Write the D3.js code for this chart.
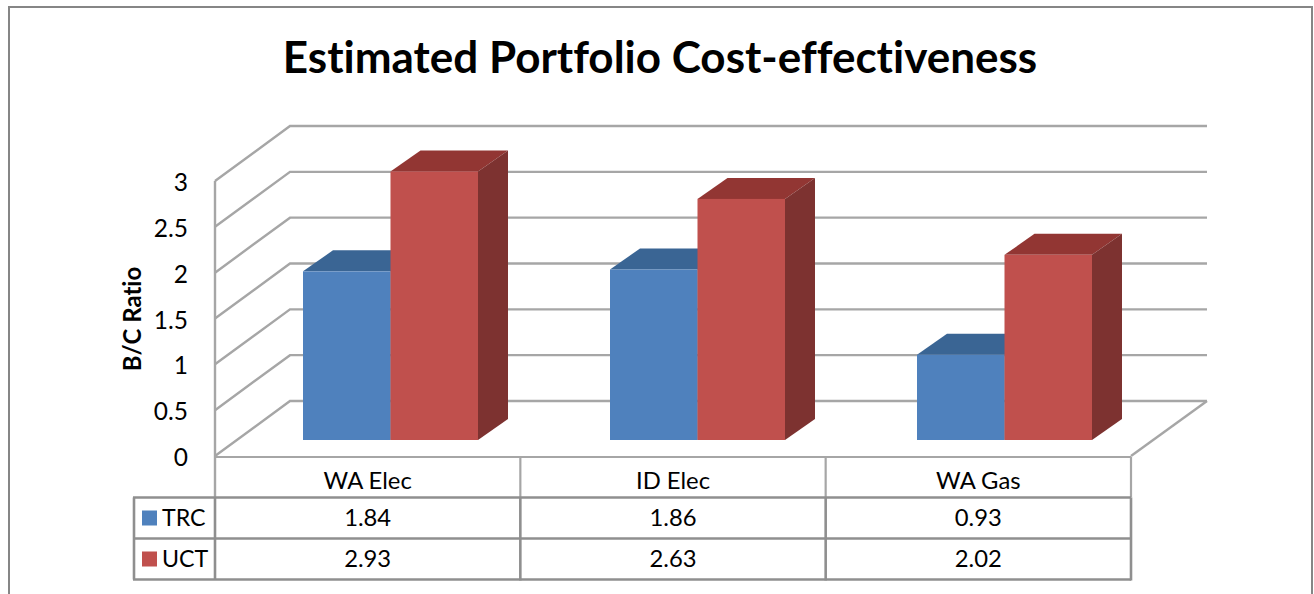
<!DOCTYPE html>
<html><head><meta charset="utf-8">
<script src="https://cdn.jsdelivr.net/npm/d3@7"></script>
<style>html,body{margin:0;padding:0;background:#fff}svg{display:block}text{font-family:Lato,"Open Sans",sans-serif;fill:#000;font-variant-ligatures:none}</style>
</head><body><script>
const categories=["WA Elec","ID Elec","WA Gas"];
const seriesNames=["TRC","UCT"];
const trc=[1.84,1.86,0.93];
const uct=[2.93,2.63,2.02];
const yTicks=[0,0.5,1,1.5,2,2.5,3];
const tickLabels=["0","0.5","1","1.5","2","2.5","3"];
const titleText="Estimated Portfolio Cost-effectiveness";
const yAxisTitle="B/C Ratio";
const front={face:["#4f81bd","#c0504d"],top:["#3a6594","#923633"],side:["#2f5480","#7d3230"]};
const grid="#a6a6a6", tableLine="#8f8f8f";

const W=1314,H=594;
const svg=d3.select("body").append("svg").attr("width",W).attr("height",H);
// frame
svg.append("path").attr("d","M9,594V7H1312V594").attr("fill","none").attr("stroke","#868686").attr("stroke-width",2);
svg.append("text").attr("x",660).attr("y",73).attr("text-anchor","middle").attr("font-size",44).attr("font-weight",700).text(titleText);

const y=d3.scaleLinear().domain([0,3]).range([456,181]);
const x0=d3.scaleBand().domain(categories).range([215,1131]);
const xBars=d3.scaleBand().domain(categories).range([215,1136]);
const x1=d3.scaleBand().domain(seriesNames).range([88,263]);
const wallDx=75,wallDy=-55,barDx=30,barDy=-21,barLift=-16;

const g=svg.append("g").attr("fill","none").attr("stroke",grid).attr("stroke-width",2.4);
yTicks.forEach(t=>{
  g.append("path").attr("d",d3.line()([[215,y(t)],[215+wallDx,y(t)+wallDy],[1207,y(t)+wallDy]]));
});
g.append("path").attr("d",d3.line()([[1207,y(0)+wallDy],[1131,y(0)]]));
g.append("path").attr("d",d3.line()([[215,y(3)],[215,497]]));

// bars
categories.forEach((c,i)=>{
  seriesNames.forEach((s,k)=>{
    const v=(k===0?trc:uct)[i];
    const bx=xBars(c)+x1(s),bw=x1.bandwidth(),by=y(v)+barLift,b0=y(0)+barLift;
    const bg=svg.append("g");
    bg.append("path").attr("fill",front.top[k]).attr("d",d3.line()([[bx,by],[bx+barDx,by+barDy],[bx+bw+barDx,by+barDy],[bx+bw,by]])+"Z");
    bg.append("path").attr("fill",front.side[k]).attr("d",d3.line()([[bx+bw,by],[bx+bw+barDx,by+barDy],[bx+bw+barDx,b0+barDy],[bx+bw,b0]])+"Z");
    bg.append("rect").attr("x",bx).attr("y",by).attr("width",bw).attr("height",b0-by).attr("fill",front.face[k]);
  });
});

// y labels
svg.append("g").selectAll("text").data(yTicks).join("text")
  .attr("x",188).attr("y",d=>y(d)+10).attr("text-anchor","end").attr("font-size",24.5)
  .text((d,i)=>tickLabels[i]);
svg.append("text").attr("transform","translate(141,319) rotate(-90)").attr("text-anchor","middle")
  .attr("font-size",24).attr("font-weight",700).text(yAxisTitle);

// data table
const rows=[457,497.5,538.5,579.5];
const tg=svg.append("g").attr("fill","none").attr("stroke",grid).attr("stroke-width",2.2);
tg.append("path").attr("d",`M215,${rows[0]}H1131`);
categories.forEach(c=>tg.append("path").attr("d",`M${x0(c)+x0.bandwidth()},${rows[0]}V${rows[1]}`));
const tb=svg.append("g").attr("fill","none").attr("stroke",tableLine).attr("stroke-width",2.6);
rows.slice(1).forEach(r=>tb.append("path").attr("d",`M133,${r}H1131`));
tb.append("path").attr("d",`M134,${rows[1]}V${rows[3]}`);
tb.append("path").attr("d",`M215,${rows[1]}V${rows[3]}`);
categories.forEach(c=>tb.append("path").attr("d",`M${x0(c)+x0.bandwidth()},${rows[1]}V${rows[3]+1}`));
const fmt=d3.format(".2f");
categories.forEach((c,i)=>{
  const cx=x0(c)+x0.bandwidth()/2;
  svg.append("text").attr("x",cx).attr("y",489).attr("text-anchor","middle").attr("font-size",23.8).text(c);
  svg.append("text").attr("x",cx).attr("y",526).attr("text-anchor","middle").attr("font-size",23.8).text(fmt(trc[i]));
  svg.append("text").attr("x",cx).attr("y",567).attr("text-anchor","middle").attr("font-size",23.8).text(fmt(uct[i]));
});
seriesNames.forEach((s,k)=>{
  const yy=rows[k+1];
  svg.append("rect").attr("x",142).attr("y",yy+13).attr("width",15).attr("height",15).attr("fill",front.face[k]);
  svg.append("text").attr("x",162).attr("y",yy+28).attr("font-size",23.2).text(s);
});
</script></body></html>
